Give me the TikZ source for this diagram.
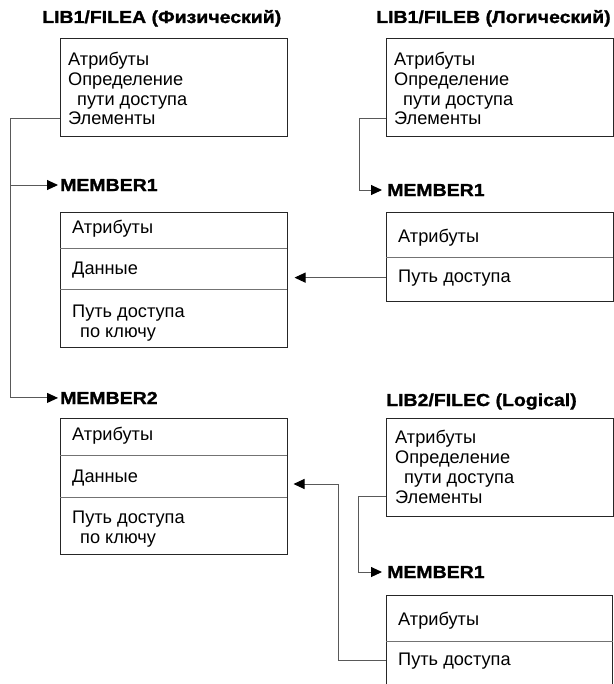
\documentclass[tikz,border=0pt]{standalone}
\usepackage{fontspec}
\setmainfont{Liberation Sans}
\newfontfamily\headfont[FakeStretch=1.12,FakeBold=1.3]{Liberation Sans Bold}
\usetikzlibrary{arrows.meta}
\begin{document}
\begin{tikzpicture}[x=1bp,y=-1bp,
  txt/.style={anchor=base west,inner sep=0pt,font=\fontsize{18.2bp}{20bp}\selectfont},
  head/.style={anchor=base west,inner sep=0pt,font=\headfont\fontsize{17.4bp}{20bp}\selectfont},
  box/.style={rectangle,anchor=north west,inner sep=0pt,minimum width=#1},
  frame/.style={draw=black!85,line width=1bp},
  divider/.style={draw=black!55,line width=1bp},
  conn/.style={draw=black!65,line width=1bp},
  arr/.style={conn,-{Triangle[length=11bp,width=10bp,color=black]}}
]
\useasboundingbox (0,0) rectangle (614,684);

% ---------- LIB1/FILEA ----------
\node[head] (fah) at (42,23) {LIB1/FILEA (Физический)};
\node[box=226.5bp,frame,minimum height=98bp] (fa) at (60,38) {};
\node[txt] (fa1) at (68,66) {Атрибуты};
\node[txt] (fa2) at (68,86) {Определение};
\node[txt] (fa3) at (77,105.5) {пути доступа};
\node[txt] (fa4) at (68,125) {Элементы};

% member 1 of FILEA
\node[head] (m1h) at (60,191) {MEMBER1};
\node[box=226.5bp,frame,minimum height=135bp] (m1) at (60,212) {};
\draw[divider] (60,248) -- (286.5,248);
\draw[divider] (60,289) -- (286.5,289);
\node[txt] (m1a) at (72,233) {Атрибуты};
\node[txt] (m1b) at (72,274) {Данные};
\node[txt] (m1c) at (72,317) {Путь доступа};
\node[txt] (m1d) at (80,337) {по ключу};

% member 2 of FILEA
\node[head] (m2h) at (60,404) {MEMBER2};
\node[box=226.5bp,frame,minimum height=136bp] (m2) at (60,418) {};
\draw[divider] (60,455) -- (286.5,455);
\draw[divider] (60,497) -- (286.5,497);
\node[txt] (m2a) at (72,440) {Атрибуты};
\node[txt] (m2b) at (72,482) {Данные};
\node[txt] (m2c) at (72,523) {Путь доступа};
\node[txt] (m2d) at (80,543) {по ключу};

% ---------- LIB1/FILEB ----------
\node[head] (fbh) at (376,23) {LIB1/FILEB (Логический)};
\node[box=226.5bp,frame,minimum height=98bp] (fb) at (386,38) {};
\node[txt] (fb1) at (394,66) {Атрибуты};
\node[txt] (fb2) at (394,86) {Определение};
\node[txt] (fb3) at (403,105.5) {пути доступа};
\node[txt] (fb4) at (394,125) {Элементы};

\node[head] (rbh) at (387,196) {MEMBER1};
\node[box=226.5bp,frame,minimum height=89bp] (rb) at (386,212) {};
\draw[divider] (386,257) -- (612.5,257);
\node[txt] (rb1) at (398,242) {Атрибуты};
\node[txt] (rb2) at (398,282) {Путь доступа};

% ---------- LIB2/FILEC ----------
\node[head] (fch) at (386,406) {LIB2/FILEC (Logical)};
\node[box=226.5bp,frame,minimum height=98bp] (fc) at (386,418) {};
\node[txt] (fc1) at (395,443) {Атрибуты};
\node[txt] (fc2) at (395,463) {Определение};
\node[txt] (fc3) at (404,483) {пути доступа};
\node[txt] (fc4) at (395,503) {Элементы};

\node[head] (rch) at (387,578) {MEMBER1};
\node[box=226.5bp,minimum height=89bp] (rc) at (386,595) {};
\draw[frame] (rc.south west) -- (rc.north west) -- (rc.north east) -- (rc.south east);
\draw[divider] (386,641) -- (612.5,641);
\node[txt] (rc1) at (398,625) {Атрибуты};
\node[txt] (rc2) at (398,665) {Путь доступа};

% ---------- connectors ----------
\coordinate (trunkA) at (10,0);
\coordinate (trunkB) at (359,0);
\coordinate (trunkC) at (358,0);
\coordinate (trunkD) at (338,0);

\draw[arr] (fa4.west -| fa.west) -| (trunkA |- m2h.west) -- ([xshift=-2bp]m2h.west);
\draw[arr] (trunkA |- m1h.west) -- ([xshift=-2bp]m1h.west);

\draw[arr] (fb4.west -| fb.west) -| (trunkB |- rbh.west) -- ([xshift=-5bp]rbh.west);
\draw[arr] (rb2.west -| rb.west) -- ([xshift=7bp]m1.east |- rb2.west);

\draw[arr] (fc4.west -| fc.west) -| (trunkC |- rch.west) -- ([xshift=-5bp]rch.west);
\coordinate (m2in) at ([xshift=6bp]m2.east |- 0,484);
\draw[arr] (rc2.west -| rc.west) -| (trunkD |- m2in) -- (m2in);
\end{tikzpicture}
\end{document}
